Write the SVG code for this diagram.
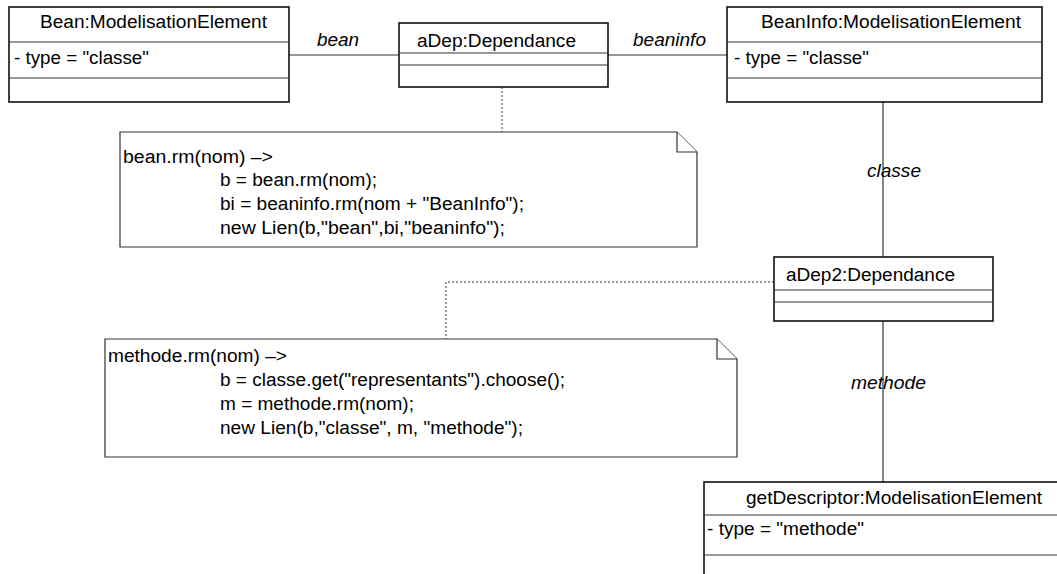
<svg xmlns="http://www.w3.org/2000/svg" width="1057" height="574" viewBox="0 0 1057 574">
<style>
text{font-family:"Liberation Sans",Arial,sans-serif;font-size:18px;fill:#000}
.lbl{font-style:italic}
.box{fill:#fff;stroke:#111;stroke-width:1.6}
.sep{stroke:#333;stroke-width:1.2}
.con{stroke:#333;stroke-width:1.2;fill:none}
.dot{stroke:#333;stroke-width:1;stroke-dasharray:2,2;fill:none}
.note{fill:#fff;stroke:#333;stroke-width:1.2}
</style>
<rect width="1057" height="574" fill="#fff"/>
<g id="connectors">
<line class="con" x1="289" y1="55" x2="399" y2="55"/>
<line class="con" x1="608" y1="55" x2="727" y2="55"/>
<line class="con" x1="883" y1="102" x2="883" y2="257"/>
<line class="con" x1="883" y1="321" x2="883" y2="482"/>
<polyline class="dot" points="502,87 502,132"/>
<polyline class="dot" points="774,282 446,282 446,339"/>
<text class="lbl" x="317" y="46" textLength="42" lengthAdjust="spacingAndGlyphs">bean</text>
<text class="lbl" x="633" y="46" textLength="73" lengthAdjust="spacingAndGlyphs">beaninfo</text>
<text class="lbl" x="867" y="177" textLength="54" lengthAdjust="spacingAndGlyphs">classe</text>
<text class="lbl" x="851" y="389" textLength="75" lengthAdjust="spacingAndGlyphs">methode</text>
</g>
<g id="bean">
<rect class="box" x="9" y="7" width="280" height="95"/>
<line class="sep" x1="9" y1="42" x2="289" y2="42"/>
<line class="sep" x1="9" y1="78" x2="289" y2="78"/>
<text x="40" y="28" textLength="227" lengthAdjust="spacingAndGlyphs">Bean:ModelisationElement</text>
<text x="14" y="64" textLength="135" lengthAdjust="spacingAndGlyphs">- type = "classe"</text>
</g>
<g id="aDep">
<rect class="box" x="399" y="23" width="209" height="64"/>
<line class="sep" x1="399" y1="53" x2="608" y2="53"/>
<line class="sep" x1="399" y1="65" x2="608" y2="65"/>
<text x="417" y="47" textLength="159" lengthAdjust="spacingAndGlyphs">aDep:Dependance</text>
</g>
<g id="beaninfo">
<rect class="box" x="727" y="7" width="315" height="95"/>
<line class="sep" x1="727" y1="42" x2="1042" y2="42"/>
<line class="sep" x1="727" y1="78" x2="1042" y2="78"/>
<text x="761" y="28" textLength="260" lengthAdjust="spacingAndGlyphs">BeanInfo:ModelisationElement</text>
<text x="734" y="64" textLength="135" lengthAdjust="spacingAndGlyphs">- type = "classe"</text>
</g>
<g id="note1">
<path class="note" d="M120,132 H677 L697,152 V247 H120 Z"/>
<path class="note" d="M677,132 V152 H697" fill="none"/>
<text x="123" y="163" textLength="150" lengthAdjust="spacingAndGlyphs">bean.rm(nom) –&gt;</text>
<text x="220" y="186" textLength="157" lengthAdjust="spacingAndGlyphs">b = bean.rm(nom);</text>
<text x="220" y="210" textLength="304" lengthAdjust="spacingAndGlyphs">bi = beaninfo.rm(nom + "BeanInfo");</text>
<text x="220" y="234" textLength="285" lengthAdjust="spacingAndGlyphs">new Lien(b,"bean",bi,"beaninfo");</text>
</g>
<g id="aDep2">
<rect class="box" x="774" y="257" width="219" height="64"/>
<line class="sep" x1="774" y1="290" x2="993" y2="290"/>
<line class="sep" x1="774" y1="302" x2="993" y2="302"/>
<text x="786" y="281" textLength="169" lengthAdjust="spacingAndGlyphs">aDep2:Dependance</text>
</g>
<g id="note2">
<path class="note" d="M105,339 H717 L737,359 V457 H105 Z"/>
<path class="note" d="M717,339 V359 H737" fill="none"/>
<text x="108" y="362" textLength="179" lengthAdjust="spacingAndGlyphs">methode.rm(nom) –&gt;</text>
<text x="220" y="386" textLength="345" lengthAdjust="spacingAndGlyphs">b = classe.get("representants").choose();</text>
<text x="220" y="410" textLength="194" lengthAdjust="spacingAndGlyphs">m = methode.rm(nom);</text>
<text x="220" y="434" textLength="303" lengthAdjust="spacingAndGlyphs">new Lien(b,"classe", m, "methode");</text>
</g>
<g id="getDescriptor">
<rect class="box" x="704" y="482" width="370" height="110"/>
<line class="sep" x1="704" y1="515" x2="1074" y2="515"/>
<line class="sep" x1="704" y1="555" x2="1074" y2="555"/>
<text x="746" y="504" textLength="296" lengthAdjust="spacingAndGlyphs">getDescriptor:ModelisationElement</text>
<text x="707" y="535" textLength="157" lengthAdjust="spacingAndGlyphs">- type = "methode"</text>
</g>
</svg>
